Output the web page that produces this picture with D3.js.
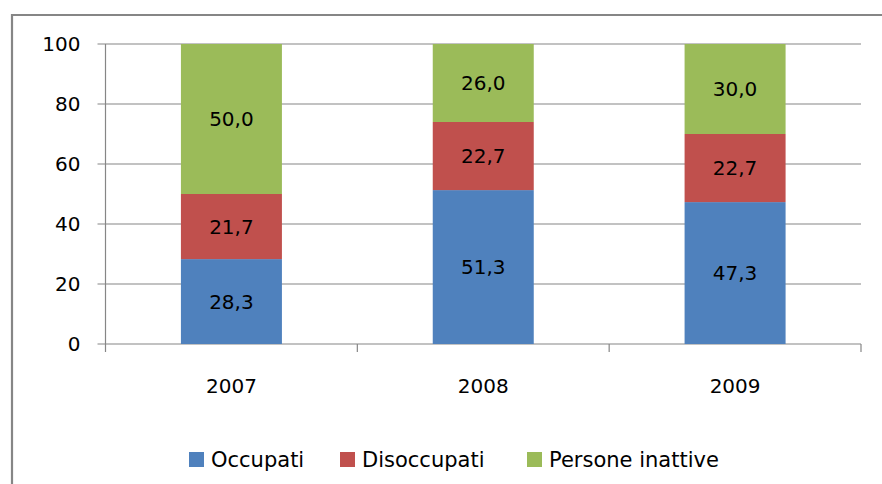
<!DOCTYPE html>
<head>
<meta charset="utf-8">
<script src="https://d3js.org/d3.v7.min.js"></script>
<style>
body { margin: 0; background: white; font-family: 'DejaVu Sans', sans-serif; }
.grid line { stroke: #868686; stroke-width: 1.2; }
</style>
</head>
<body>
<div id="chart"></div>
<script>

var years = ["2007", "2008", "2009"];
var series = ["Occupati", "Disoccupati", "Persone inattive"];
var occupati = [28.3, 51.3, 47.3];
var disoccupati = [21.7, 22.7, 22.7];
var inattive = [50.0, 26.0, 30.0];
var yTicks = [0, 20, 40, 60, 80, 100];
var colors = ["#4F81BD", "#C0504D", "#9BBB59"];

var W = 882, H = 484;
var margin = {top: 44, right: 21, bottom: 140, left: 105.5};
var width = W - margin.left - margin.right,
    height = H - margin.top - margin.bottom;

var svg = d3.select("#chart").append("svg")
    .attr("width", W).attr("height", H);

// outer frame (runs off right and bottom)
svg.append("path")
    .attr("d", "M12," + (H + 5) + "V15H" + (W + 5))
    .attr("fill", "none")
    .attr("stroke", "#868686")
    .attr("stroke-width", 2.2);

var rows = years.map(function(y, i) {
  return {year: y, Occupati: occupati[i], Disoccupati: disoccupati[i], "Persone inattive": inattive[i]};
});
var stacked = d3.stack().keys(series)(rows);

var x = d3.scaleBand().domain(years).range([0, width]).paddingInner(0).paddingOuter(0);
var y = d3.scaleLinear().domain([0, 100]).range([height, 0]);

var g = svg.append("g").attr("transform", "translate(" + margin.left + "," + margin.top + ")");

// gridlines
g.append("g").attr("class", "grid")
  .selectAll("line").data(yTicks).enter().append("line")
    .attr("x1", -8).attr("x2", width)
    .attr("y1", function(d) { return y(d); })
    .attr("y2", function(d) { return y(d); });

// y axis line
g.append("line").attr("x1", 0).attr("x2", 0).attr("y1", 0).attr("y2", height)
  .attr("stroke", "#868686").attr("stroke-width", 1.2);

// x category ticks
g.selectAll(".xtick").data([0, 1, 2, 3]).enter().append("line")
  .attr("class", "xtick")
  .attr("x1", function(d) { return d * x.bandwidth(); })
  .attr("x2", function(d) { return d * x.bandwidth(); })
  .attr("y1", height).attr("y2", height + 8)
  .attr("stroke", "#868686").attr("stroke-width", 1.2);

// y labels
g.selectAll(".ylab").data(yTicks).enter().append("text")
  .attr("x", -25).attr("y", function(d) { return y(d); })
  .attr("dy", "0.36em")
  .attr("text-anchor", "end")
  .attr("font-size", 20).attr("fill", "#000")
  .text(function(d) { return d; });

// x labels
g.selectAll(".xlab").data(years).enter().append("text")
  .attr("x", function(d) { return x(d) + x.bandwidth() / 2; })
  .attr("y", height + 49)
  .attr("text-anchor", "middle")
  .attr("font-size", 20).attr("fill", "#000")
  .text(function(d) { return d; });

var barW = 101;

var layers = g.selectAll(".layer").data(stacked).enter().append("g")
  .attr("fill", function(d, i) { return colors[i]; });

layers.selectAll("rect").data(function(d) { return d; }).enter().append("rect")
  .attr("x", function(d) { return x(d.data.year) + x.bandwidth() / 2 - barW / 2; })
  .attr("width", barW)
  .attr("y", function(d) { return y(d[1]); })
  .attr("height", function(d) { return y(d[0]) - y(d[1]); });

layers.selectAll("text").data(function(d) { return d; }).enter().append("text")
  .attr("x", function(d) { return x(d.data.year) + x.bandwidth() / 2; })
  .attr("y", function(d) { return (y(d[0]) + y(d[1])) / 2; })
  .attr("dy", "0.36em")
  .attr("text-anchor", "middle")
  .attr("font-size", 20).attr("fill", "#000")
  .text(function(d) { return (d[1] - d[0]).toFixed(1).replace(".", ","); });

// legend
var legX = [189, 340, 527];
var leg = svg.selectAll(".leg").data(series).enter().append("g")
  .attr("transform", function(d, i) { return "translate(" + legX[i] + ",452)"; });
leg.append("rect").attr("width", 15).attr("height", 15)
  .attr("fill", function(d, i) { return colors[i]; });
leg.append("text").attr("x", 22).attr("y", 7.5).attr("dy", "0.36em")
  .attr("font-size", 21).attr("fill", "#000")
  .text(function(d) { return d; });

</script>
</body>
